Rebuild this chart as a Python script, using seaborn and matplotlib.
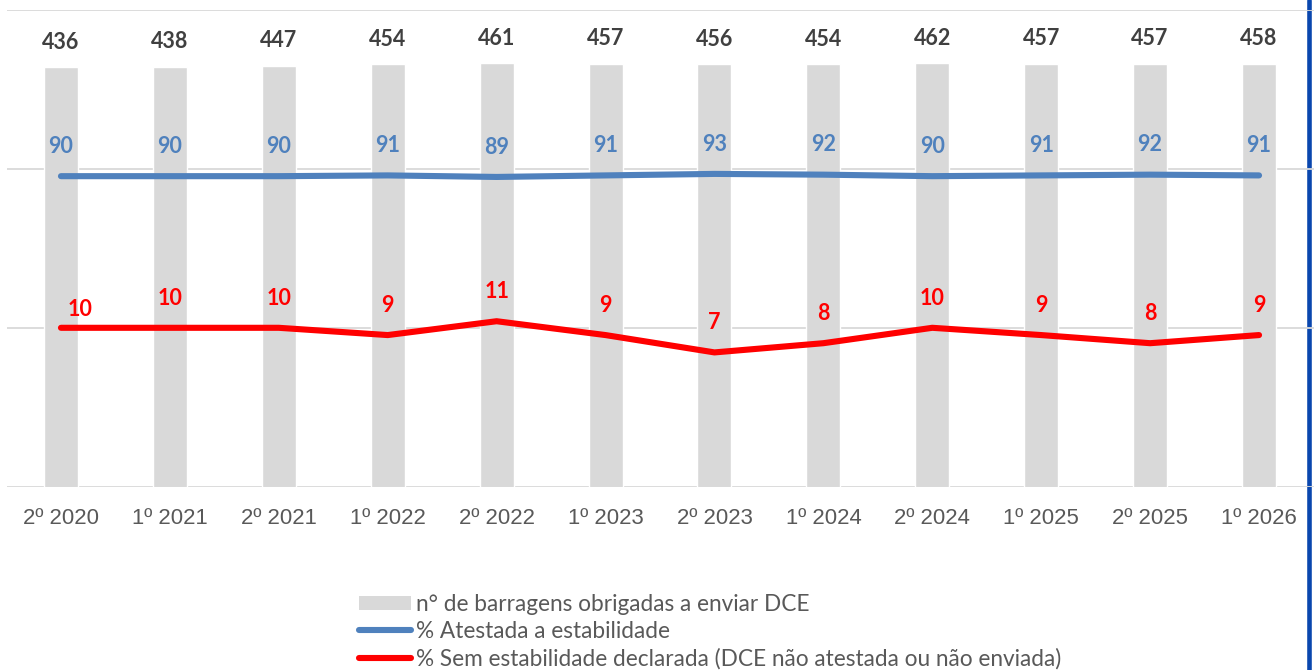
import numpy as np
import pandas as pd
import seaborn as sns
import matplotlib.pyplot as plt
from matplotlib.lines import Line2D
from matplotlib.patches import Patch

# data
periods = ['2º 2020', '1º 2021', '2º 2021', '1º 2022', '2º 2022', '1º 2023',
           '2º 2023', '1º 2024', '2º 2024', '1º 2025', '2º 2025', '1º 2026']
n_barragens = [436, 438, 447, 454, 461, 457, 456, 454, 462, 457, 457, 458]
pct_atestada = [90, 90, 90, 91, 89, 91, 93, 92, 90, 91, 92, 91]
pct_sem = [10, 10, 10, 9, 11, 9, 7, 8, 10, 9, 8, 9]

lbl_bar = 'n° de barragens obrigadas a enviar DCE'
lbl_blue = '% Atestada a estabilidade'
lbl_red = '% Sem estabilidade declarada (DCE não atestada ou não enviada)'

df = pd.DataFrame({'periodo': periods, 'n': n_barragens,
                   'atestada': pct_atestada, 'sem': pct_sem})

c_bar = '#d9d9d9'
c_blue = '#4f81bd'
c_red = '#ff0000'
c_txt = '#595959'

sns.set_theme(style='white')
plt.rcParams['font.family'] = ['Lato', 'DejaVu Sans']

fig = plt.figure(figsize=(13.14, 6.70), dpi=100)
ax = fig.add_axes([6.5 / 1314, 1 - 486.7 / 670, 1307 / 1314, 476.7 / 670])
ax.patch.set_alpha(0)

# right border line of the original frame
fig.add_artist(Line2D([1308.5 / 1314] * 2, [0, 1], transform=fig.transFigure,
                      color='#0a47ae', lw=3.3, zorder=-1))

sns.barplot(data=df, x='periodo', y='n', color=c_bar, width=0.312,
            saturation=1, ax=ax, zorder=1)
sns.lineplot(data=df, x='periodo', y='atestada', color=c_blue, lw=4.4,
             sort=False, ax=ax, zorder=3, solid_capstyle='round')
sns.lineplot(data=df, x='periodo', y='sem', color=c_red, lw=4.4,
             sort=False, ax=ax, zorder=3, solid_capstyle='round')

ax.set_yscale('log')
ax.set_ylim(1, 1000)
ax.set_xlim(-0.5, len(periods) - 0.5)
ax.set_yticks([1, 10, 100, 1000])
ax.yaxis.set_minor_locator(plt.NullLocator())
ax.set_yticklabels([])
ax.grid(axis='y', color='#d9d9d9', lw=1.3, zorder=0)
ax.set_axisbelow(True)
for s in ax.spines.values():
    s.set_visible(False)
ax.set_xlabel('')
ax.set_ylabel('')
ax.tick_params(axis='both', length=0)
ax.tick_params(axis='x', pad=15)
ax.set_xticks(range(len(periods)))
ax.set_xticklabels(periods, fontfamily='Liberation Sans',
                   fontsize=15.9, color=c_txt)

# data labels
for i, v in enumerate(n_barragens):
    ax.annotate(f'{v}', (i, v), xytext=(0, 13.4), textcoords='offset points',
                ha='center', va='baseline', fontsize=15.5, fontweight='bold',
                color='#404040')
for i, v in enumerate(pct_atestada):
    ax.annotate(f'{v}', (i, v), xytext=(0, 16.8), textcoords='offset points',
                ha='center', va='baseline', fontsize=15.5, fontweight='bold',
                color=c_blue)
for i, v in enumerate(pct_sem):
    off = (13.7, 8.6) if i == 0 else (0, 16.6)
    ax.annotate(f'{v}', (i, v), xytext=off, textcoords='offset points',
                ha='center', va='baseline', fontsize=15.5, fontweight='bold',
                color=c_red)

handles = [Patch(facecolor=c_bar, edgecolor='none', label=lbl_bar),
           Line2D([], [], color=c_blue, lw=4.4, solid_capstyle='round', label=lbl_blue),
           Line2D([], [], color=c_red, lw=4.4, solid_capstyle='round', label=lbl_red)]
leg = fig.legend(handles=handles, loc='upper left',
                 bbox_to_anchor=(359 / 1314, 1 - 594 / 670), frameon=False,
                 fontsize=16.3, handlelength=2.3, handleheight=0.62,
                 handletextpad=0.2, labelspacing=0.27, borderpad=0,
                 borderaxespad=0)
for t in leg.get_texts():
    t.set_color(c_txt)

fig.savefig('out.png', dpi=100)
